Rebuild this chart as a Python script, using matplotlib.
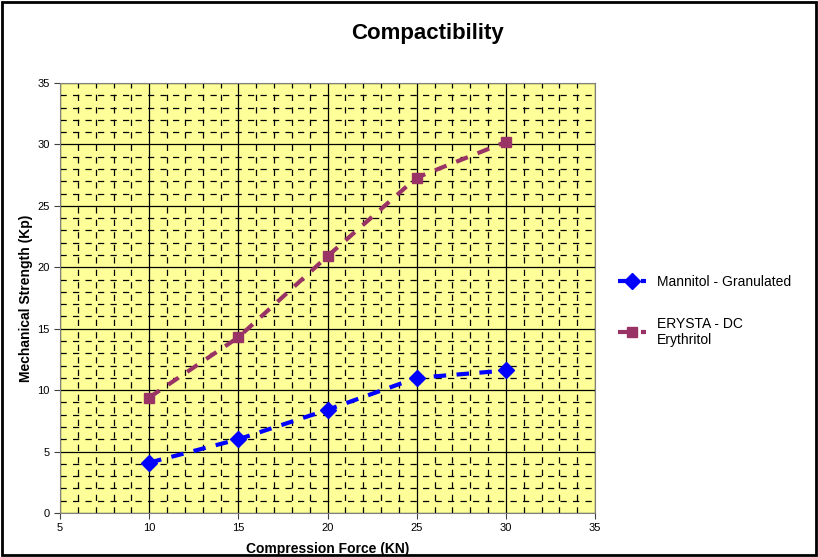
import matplotlib.pyplot as plt
from matplotlib.ticker import MultipleLocator
from matplotlib.patches import Rectangle

force = [10, 15, 20, 25, 30]
mannitol = [4.1, 6.0, 8.4, 11.0, 11.6]
erysta = [9.4, 14.3, 20.9, 27.3, 30.2]

plt.rcParams['font.family'] = ['Liberation Sans', 'DejaVu Sans']

dpi = 100
fig = plt.figure(figsize=(818 / dpi, 557 / dpi), dpi=dpi)
ax = fig.add_axes([60 / 818, 1 - 513 / 557, 535 / 818, 430 / 557])
ax.set_facecolor('#FFFF99')

ax.plot(force, mannitol, color='#0000FF', ls=(0, (3, 2.5)), lw=3,
        marker='D', ms=8, label='Mannitol - Granulated', zorder=3)
ax.plot(force, erysta, color='#993366', ls=(0, (3, 2.5)), lw=3,
        marker='s', ms=7, label='ERYSTA - DC\nErythritol', zorder=3)

ax.set_xlim(5, 35)
ax.set_ylim(0, 35)
ax.xaxis.set_major_locator(MultipleLocator(5))
ax.yaxis.set_major_locator(MultipleLocator(5))
ax.xaxis.set_minor_locator(MultipleLocator(1))
ax.yaxis.set_minor_locator(MultipleLocator(1))
ax.grid(which='major', color='black', lw=0.9, zorder=1)
ax.grid(which='minor', color='black', lw=0.9, ls=(0, (5, 5)), zorder=1)
ax.set_axisbelow(True)
ax.tick_params(which='major', length=4, labelsize=8, color='#404040')
ax.tick_params(which='minor', length=0)
for s in ax.spines.values():
    s.set_color('#808080')

fig.text(428 / 818, 1 - 33 / 557, 'Compactibility', fontsize=16,
         fontweight='bold', ha='center', va='center')
ax.set_xlabel('Compression Force (KN)', fontsize=10, fontweight='bold', labelpad=6)
ax.set_ylabel('Mechanical Strength (Kp)', fontsize=10, fontweight='bold')
ax.yaxis.set_label_coords(-0.05, 0.5)

ax.legend(loc='center left', bbox_to_anchor=(1.02, 0.47), frameon=False,
          fontsize=10, handlelength=2, labelspacing=2.0)

fig.patches.append(Rectangle((0.002, 0.003), 0.996, 0.994, transform=fig.transFigure,
                             fill=False, ec='black', lw=2))
fig.savefig('out.png', dpi=dpi)
